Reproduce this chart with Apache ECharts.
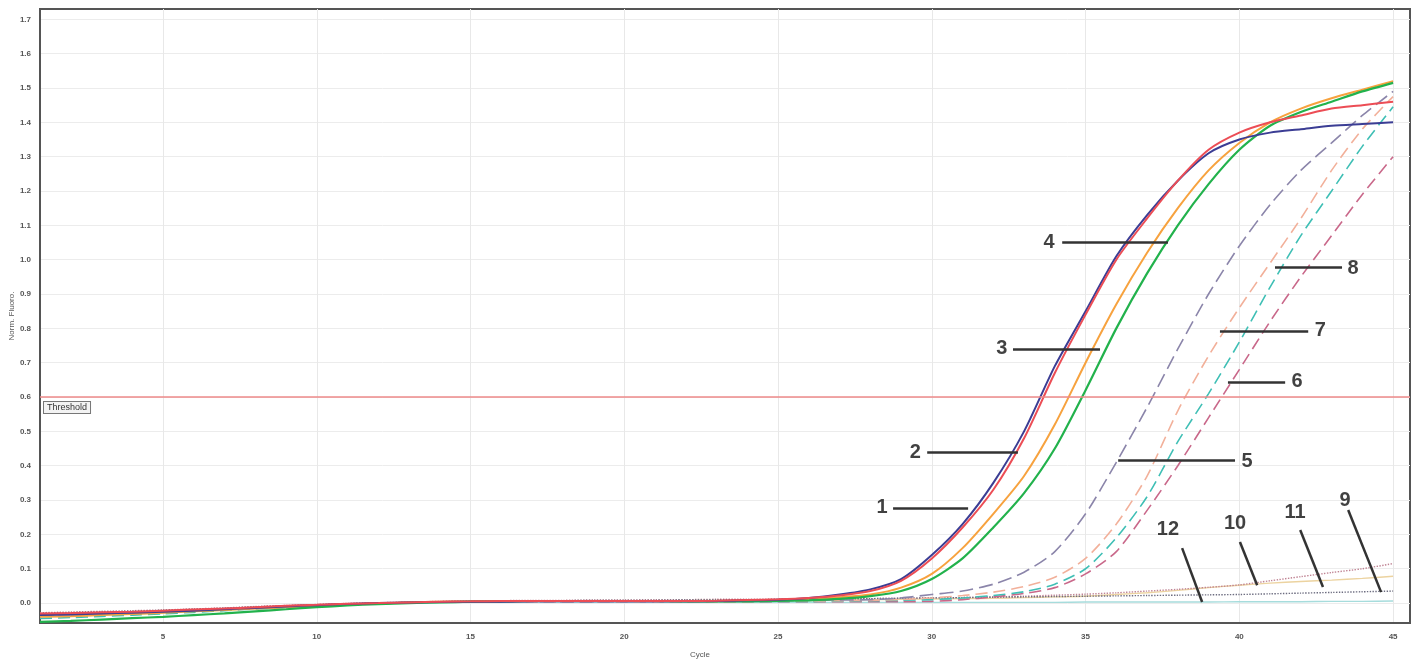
<!DOCTYPE html>
<html><head><meta charset="utf-8">
<script src="https://cdn.jsdelivr.net/npm/echarts@6/dist/echarts.min.js"></script>
<style>html,body{margin:0;padding:0;background:#fff}#c{width:1420px;height:661px}</style>
</head><body><div id="c"></div>
<script>
const cycles = [1,2,3,4,5,6,7,8,9,10,11,12,13,14,15,16,17,18,19,20,21,22,23,24,25,26,27,28,29,30,31,32,33,34,35,36,37,38,39,40,41,42,43,44,45];
const xTicks = [5,10,15,20,25,30,35,40,45];
const yTicks = [0,0.1,0.2,0.3,0.4,0.5,0.6,0.7,0.8,0.9,1.0,1.1,1.2,1.3,1.4,1.5,1.6,1.7];
const threshold = 0.6;

const sBlue = [-0.035,-0.033,-0.030,-0.028,-0.025, -0.022,-0.018,-0.014,-0.010,-0.006, -0.003,0.000,0.002,0.003,0.004, 0.004,0.005,0.005,0.005,0.005, 0.005,0.005,0.006,0.008,0.010, 0.015,0.025,0.040,0.070,0.140, 0.230,0.350,0.500,0.690,0.850, 1.010,1.130,1.230,1.310,1.350, 1.370,1.380,1.390,1.395,1.400];
const sRed = [-0.030,-0.029,-0.027,-0.025,-0.022, -0.019,-0.016,-0.012,-0.008,-0.005, -0.002,0.000,0.002,0.004,0.005, 0.006,0.006,0.006,0.006,0.006, 0.006,0.006,0.007,0.009,0.011, 0.015,0.022,0.035,0.065,0.130, 0.220,0.330,0.480,0.670,0.840, 1.000,1.120,1.230,1.320,1.370, 1.400,1.420,1.440,1.450,1.460];
const sOrange = [-0.040,-0.038,-0.035,-0.032,-0.028, -0.024,-0.020,-0.016,-0.012,-0.008, -0.004,-0.001,0.002,0.004,0.005, 0.006,0.006,0.006,0.006,0.006, 0.006,0.006,0.006,0.007,0.009, 0.012,0.017,0.025,0.045,0.085, 0.160,0.260,0.370,0.520,0.700, 0.870,1.020,1.150,1.260,1.340, 1.400,1.440,1.470,1.495,1.520];
const sGreen = [-0.055,-0.052,-0.048,-0.044,-0.040, -0.035,-0.030,-0.024,-0.018,-0.012, -0.007,-0.003,0.000,0.002,0.004, 0.005,0.006,0.006,0.006,0.006, 0.006,0.005,0.005,0.005,0.006, 0.008,0.012,0.020,0.035,0.070, 0.130,0.220,0.320,0.450,0.620, 0.800,0.960,1.100,1.220,1.320, 1.390,1.430,1.460,1.490,1.515];
const sPurpleDash = [-0.035,-0.033,-0.030,-0.027,-0.024, -0.021,-0.017,-0.013,-0.009,-0.006, -0.003,0.000,0.002,0.003,0.004, 0.004,0.004,0.004,0.004,0.004, 0.004,0.005,0.005,0.006,0.007, 0.008,0.009,0.010,0.015,0.025, 0.035,0.055,0.090,0.150,0.260, 0.410,0.570,0.740,0.900,1.040, 1.160,1.260,1.340,1.420,1.490];
const sPinkDash = [-0.032,-0.030,-0.028,-0.026,-0.023, -0.020,-0.016,-0.012,-0.008,-0.005, -0.002,0.000,0.002,0.003,0.004, 0.004,0.004,0.004,0.004,0.004, 0.004,0.004,0.004,0.004,0.004, 0.004,0.004,0.004,0.004,0.005, 0.010,0.018,0.028,0.045,0.085, 0.150,0.270,0.400,0.540,0.680, 0.820,0.950,1.070,1.190,1.300];
const sOrangeDash = [-0.038,-0.036,-0.033,-0.030,-0.027, -0.023,-0.019,-0.015,-0.011,-0.007, -0.004,-0.001,0.001,0.003,0.004, 0.005,0.005,0.005,0.005,0.005, 0.005,0.005,0.005,0.005,0.006, 0.006,0.007,0.008,0.010,0.015, 0.022,0.032,0.048,0.075,0.130, 0.230,0.370,0.560,0.720,0.860, 0.990,1.120,1.260,1.380,1.475];
const sCyanDash = [-0.045,-0.042,-0.039,-0.035,-0.031, -0.027,-0.022,-0.017,-0.013,-0.009, -0.005,-0.002,0.001,0.003,0.004, 0.005,0.005,0.005,0.005,0.005, 0.005,0.005,0.005,0.005,0.005, 0.005,0.006,0.007,0.008,0.010, 0.015,0.022,0.033,0.055,0.100, 0.190,0.310,0.470,0.610,0.760, 0.920,1.070,1.200,1.330,1.445];
const sFlat9 = [-0.030,-0.028,-0.026,-0.024,-0.021, -0.018,-0.015,-0.011,-0.008,-0.005, -0.002,0.000,0.002,0.004,0.005, 0.006,0.007,0.007,0.008,0.008, 0.008,0.009,0.009,0.010,0.010, 0.011,0.012,0.013,0.014,0.015, 0.016,0.017,0.018,0.019,0.020, 0.021,0.022,0.023,0.024,0.025, 0.027,0.029,0.031,0.033,0.035];
const sFlat10 = [-0.028,-0.026,-0.024,-0.022,-0.020, -0.017,-0.014,-0.010,-0.007,-0.004, -0.001,0.001,0.003,0.005,0.006, 0.007,0.008,0.008,0.009,0.009, 0.010,0.010,0.011,0.011,0.012, 0.012,0.013,0.013,0.014,0.015, 0.016,0.018,0.020,0.023,0.026, 0.030,0.035,0.040,0.046,0.053, 0.065,0.077,0.089,0.100,0.115];
const sFlat11 = [-0.033,-0.031,-0.029,-0.026,-0.023, -0.020,-0.016,-0.012,-0.009,-0.006, -0.003,0.000,0.002,0.003,0.004, 0.005,0.005,0.006,0.006,0.006, 0.007,0.007,0.008,0.008,0.009, 0.009,0.010,0.010,0.011,0.012, 0.013,0.014,0.016,0.018,0.020, 0.025,0.030,0.037,0.045,0.052, 0.058,0.063,0.067,0.072,0.078];
const sFlat12 = [-0.040,-0.038,-0.035,-0.032,-0.028, -0.024,-0.020,-0.016,-0.012,-0.008, -0.005,-0.002,0.000,0.001,0.002, 0.002,0.002,0.002,0.002,0.002, 0.002,0.002,0.002,0.002,0.002, 0.002,0.002,0.002,0.002,0.002, 0.002,0.002,0.002,0.002,0.003, 0.003,0.003,0.003,0.003,0.004, 0.004,0.004,0.005,0.005,0.006];

// annotation numbers (text anchor in data units) and leader lines
const annLabels = ['1','2','3','4','5','6','7','8','9','10','11','12'];
const annText = [[28.38,0.277],[29.46,0.44],[32.28,0.74],[33.81,1.05],[40.25,0.413],[41.88,0.644],[42.63,0.793],[43.7,0.974],[43.44,0.30],[39.86,0.233],[41.81,0.265],[37.68,0.213]];
const annLeaderFrom = [[28.74,0.277],[29.85,0.44],[32.64,0.74],[34.24,1.05],[36.06,0.417],[39.63,0.644],[39.37,0.793],[41.16,0.977],[43.54,0.271],[40.02,0.178],[41.98,0.213],[38.14,0.160]];
const annLeaderTo = [[31.18,0.277],[32.8,0.44],[35.47,0.74],[37.68,1.05],[39.86,0.417],[41.49,0.644],[42.24,0.793],[43.34,0.977],[44.61,0.032],[40.58,0.052],[42.72,0.047],[38.79,0.003]];

const chart = echarts.init(document.getElementById('c'));
function pairs(arr){ return cycles.map((c,i)=>[c,arr[i]]); }
function ln(name, arr, color, width, type, z){
  return {name, type:'line', data:pairs(arr), symbol:'none', smooth:0.25, z:z||2,
    lineStyle:{color, width, type}, silent:true};
}
const series = [
  ln('12', sFlat12, '#a6dcdc', 1.4, 'solid'),
  ln('11', sFlat11, '#ecd3a0', 1.4, 'solid'),
  ln('10', sFlat10, '#c08494', 1.4, 'dotted'),
  ln('9', sFlat9, '#6d6d80', 1.4, 'dotted'),
  ln('6', sPinkDash, '#c9688a', 1.6, [12,6]),
  ln('8', sCyanDash, '#3fbfb5', 1.6, [12,6]),
  ln('7', sOrangeDash, '#f2b09a', 1.6, [12,6]),
  ln('5', sPurpleDash, '#8b85aa', 1.6, [14,6]),
  ln('3', sOrange, '#f7a23e', 2, 'solid', 3),
  ln('4', sGreen, '#22b24c', 2.2, 'solid', 3),
  ln('1', sBlue, '#3b3d94', 2, 'solid', 3),
  ln('2', sRed, '#ec4d55', 2, 'solid', 3),
  {
    type:'scatter', z:10, silent:true, symbolSize:1,
    itemStyle:{color:'rgba(0,0,0,0)'},
    data: annText.map((p,i)=>({value:p, name:annLabels[i]})),
    label:{show:true, position:'inside', formatter:'{b}', fontSize:20, fontWeight:'bold',
      color:'#111', fontFamily:'Liberation Sans'},
    markLine:{
      silent:true, symbol:['none','none'], animation:false,
      label:{show:false},
      lineStyle:{color:'#333', width:2.5, type:'solid'},
      data: annLeaderFrom.map((p,i)=>[{coord:p},{coord:annLeaderTo[i]}])
    }
  },
  {
    type:'line', data:[], z:4, silent:true,
    markLine:{
      silent:true, symbol:['none','none'], animation:false,
      lineStyle:{color:'#ee8a8a', width:1.5, type:'solid'},
      label:{show:true, position:'insideStartBottom', formatter:'Threshold', fontSize:9,
        color:'#333', backgroundColor:'#f3f3f3', borderColor:'#777', borderWidth:1,
        padding:[1,3], distance:[4,5], fontFamily:'Liberation Sans'},
      data:[{yAxis:threshold}]
    }
  }
];

chart.setOption({
  animation:false,
  backgroundColor:'#fff',
  grid:{left:40, right:10, top:9, bottom:38, show:true, borderColor:'#555', borderWidth:2,
    backgroundColor:'#fff', containLabel:false, outerBoundsMode:'none'},
  xAxis:{type:'value', min:1, max:45.55,
    name:'Cycle', nameLocation:'middle', nameGap:28, nameMoveOverlap:false,
    nameTextStyle:{fontSize:8, color:'#555', fontFamily:'Liberation Sans', padding:[0,50,0,0]},
    axisLine:{show:true, onZero:false, lineStyle:{color:'#555', width:2}},
    axisTick:{show:false, customValues:xTicks},
    axisLabel:{customValues:xTicks, fontSize:8, fontWeight:'bold', color:'#555', margin:10, fontFamily:'Liberation Sans'},
    splitLine:{show:true, lineStyle:{color:'#e8e8e8', width:1}}
  },
  yAxis:{type:'value', min:-0.058, max:1.73,
    name:'Norm. Fluoro.', nameLocation:'middle', nameGap:24, nameRotate:90, nameMoveOverlap:false,
    nameTextStyle:{fontSize:8, color:'#555', fontFamily:'Liberation Sans'},
    axisLine:{show:true, onZero:false, lineStyle:{color:'#555', width:2}},
    axisTick:{show:false, customValues:yTicks},
    axisLabel:{customValues:yTicks, fontSize:8, fontWeight:'bold', color:'#555', margin:9,
      fontFamily:'Liberation Sans', formatter:v=>v.toFixed(1)},
    splitLine:{show:true, lineStyle:{color:'#ececec', width:1}}
  },
  series
});
</script>
</body></html>
